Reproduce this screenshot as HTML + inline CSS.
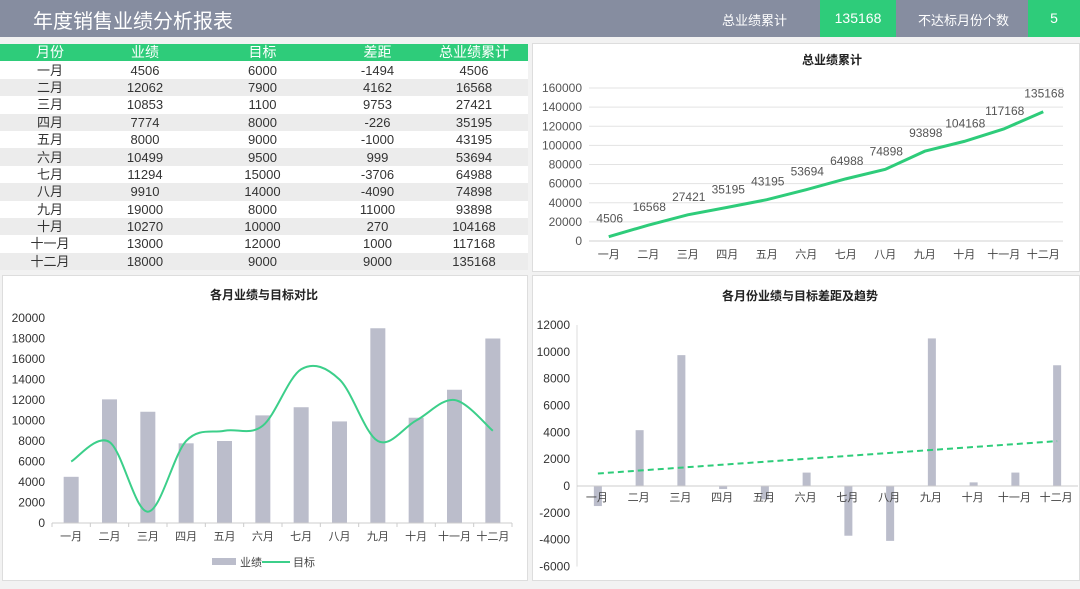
<!DOCTYPE html>
<html><head><meta charset="utf-8">
<style>
body{margin:0;width:1080px;height:589px;background:#f2f2f2;font-family:"Liberation Sans","Noto Sans CJK SC",sans-serif;overflow:hidden;position:relative}
.hdr{position:absolute;left:0;top:0;width:1080px;height:37px;background:#868da0}
.abs{position:absolute}
table{border-collapse:collapse;position:absolute;left:0;top:44px;width:528px;font-size:13px;color:#333;table-layout:fixed}
td{height:17.4px;padding:0;text-align:center;line-height:17px;background:#fff}
tr.h td{background:#2ecc7a;color:#fff;font-size:14px}
tr.g td{background:#ececec}
.panel{position:absolute;background:#fff;border:1px solid #ddd}
svg text{font-family:"Liberation Sans","Noto Sans CJK SC",sans-serif}
</style></head><body>
<div class="hdr"></div>
<div class="abs" style="left:33px;top:5px;color:#fff;font-size:20px">年度销售业绩分析报表</div>
<div class="abs" style="left:722px;top:10px;color:#fff;font-size:13px">总业绩累计</div>
<div class="abs" style="left:820px;top:0;width:76px;height:37px;background:#2ecc7a;color:#fff;font-size:14px;text-align:center;line-height:36px">135168</div>
<div class="abs" style="left:918px;top:10px;color:#fff;font-size:13px">不达标月份个数</div>
<div class="abs" style="left:1028px;top:0;width:52px;height:37px;background:#2ecc7a;color:#fff;font-size:14px;text-align:center;line-height:36px">5</div>

<table id="tbl">
<colgroup><col style="width:100px"><col style="width:90px"><col style="width:145px"><col style="width:85px"><col style="width:108px"></colgroup>
<tbody id="tb"><tr class="h"><td>月份</td><td>业绩</td><td>目标</td><td>差距</td><td>总业绩累计</td></tr></tbody>
</table>

<div class="panel" style="left:532px;top:43px;width:546px;height:227px"></div>
<div class="panel" style="left:2px;top:275px;width:524px;height:304px"></div>
<div class="panel" style="left:532px;top:275px;width:546px;height:304px"></div>

<svg id="svg" class="abs" style="left:0;top:0" width="1080" height="589"></svg>

<script>
const months=["一月","二月","三月","四月","五月","六月","七月","八月","九月","十月","十一月","十二月"];
const sales=[4506,12062,10853,7774,8000,10499,11294,9910,19000,10270,13000,18000];
const targets=[6000,7900,1100,8000,9000,9500,15000,14000,8000,10000,12000,9000];
const gaps=[-1494,4162,9753,-226,-1000,999,-3706,-4090,11000,270,1000,9000];
const cumulative=[4506,16568,27421,35195,43195,53694,64988,74898,93898,104168,117168,135168];
const cumTicks=[0,20000,40000,60000,80000,100000,120000,140000,160000];
const cmpTicks=[0,2000,4000,6000,8000,10000,12000,14000,16000,18000,20000];
const gapTicks=[-6000,-4000,-2000,0,2000,4000,6000,8000,10000,12000];

const tb=document.getElementById('tb');
months.forEach((m,i)=>{
  const tr=document.createElement('tr');
  
  
  if(i%2===1)tr.className='g';
  [m,sales[i],targets[i],gaps[i],cumulative[i]].forEach(v=>{const td=document.createElement('td');td.textContent=v;tr.appendChild(td);});
  tb.appendChild(tr);
});

const svg=document.getElementById('svg');
const NS='http://www.w3.org/2000/svg';
function el(tag,attrs,txt){const e=document.createElementNS(NS,tag);for(const k in attrs)e.setAttribute(k,attrs[k]);if(txt!==undefined)e.textContent=txt;svg.appendChild(e);return e;}
function txt(x,y,s,anchor,size,fill,name,weight){const t=el('text',{x:x,y:y,'text-anchor':anchor,'font-size':size,fill:fill,'font-weight':weight||'normal'},s);return t;}

// Chart 1 cumulative
(function(){
  const x0=589,x1=1063,y0=241,yTop=88,max=160000;
  const bw=(x1-x0)/12;
  const X=i=>x0+bw*(i+0.5), Y=v=>y0-(v/max)*(y0-yTop);
  txt(832,64,'总业绩累计','middle',12,'#222','chart1-title','bold');
  cumTicks.forEach(t=>{
    if(t>0){const g=el('line',{x1:x0,x2:x1,y1:Y(t),y2:Y(t),stroke:'#e3e3e3'});}
    txt(582,Y(t)+4,t,'end',12,'#555','y-tick');
  });
  el('line',{x1:x0,x2:x1,y1:y0,y2:y0,stroke:'#d0d0d0'});
  months.forEach((m,i)=>txt(X(i),258,m,'middle',11,'#444','x-tick'));
  const p=el('polyline',{points:cumulative.map((v,i)=>X(i)+','+Y(v)).join(' '),fill:'none',stroke:'#2ecc7a','stroke-width':3});
  
  cumulative.forEach((v,i)=>txt(X(i)+1,Y(v)-14,v,'middle',12,'#555','data-label'));
})();

// Chart 2 sales vs target
(function(){
  const x0=52,x1=512,y0=523,yTop=318,max=20000;
  const bw=(x1-x0)/12;
  const X=i=>x0+bw*(i+0.5), Y=v=>y0-(v/max)*(y0-yTop);
  txt(264,299,'各月业绩与目标对比','middle',12,'#222','chart2-title','bold');
  cmpTicks.forEach(t=>txt(45,Y(t)+4,t,'end',12,'#333','y-tick'));
  sales.forEach((v,i)=>{const r=el('rect',{x:X(i)-7.5,y:Y(v),width:15,height:y0-Y(v),fill:'#bbbdcb'});});
  el('line',{x1:x0,x2:x1,y1:y0,y2:y0,stroke:'#ccc'});
  for(let i=0;i<=12;i++)el('line',{x1:x0+bw*i,x2:x0+bw*i,y1:y0,y2:y0+4,stroke:'#ccc'});
  months.forEach((m,i)=>txt(X(i),540,m,'middle',11,'#444','x-tick'));
  const pts=targets.map((v,i)=>[X(i),Y(v)]);
  let d='M'+pts[0][0]+','+pts[0][1];
  for(let i=0;i<pts.length-1;i++){
    const p0=pts[Math.max(0,i-1)],p1=pts[i],p2=pts[i+1],p3=pts[Math.min(pts.length-1,i+2)];
    const c1=[p1[0]+(p2[0]-p0[0])/6,p1[1]+(p2[1]-p0[1])/6],c2=[p2[0]-(p3[0]-p1[0])/6,p2[1]-(p3[1]-p1[1])/6];
    d+=` C${c1[0]},${c1[1]} ${c2[0]},${c2[1]} ${p2[0]},${p2[1]}`;
  }
  const p=el('path',{d:d,fill:'none',stroke:'#3ccf8a','stroke-width':2});
  
  const lr=el('rect',{x:212,y:558,width:24,height:7,fill:'#bbbdcb'});
  txt(240,566,'业绩','start',11,'#444','legend-sales');
  el('line',{x1:262,x2:290,y1:562,y2:562,stroke:'#3ccf8a','stroke-width':2});
  txt(293,566,'目标','start',11,'#444','legend-target');
})();

// Chart 3 gaps
(function(){
  const x0=577,x1=1078,y0=486,max=12000,ppu=(486-325)/12000;
  const bw=(x1-x0)/12;
  const X=i=>x0+bw*(i+0.5), Y=v=>y0-v*ppu;
  txt(800,300,'各月份业绩与目标差距及趋势','middle',12,'#222','chart3-title','bold');
  gapTicks.forEach(t=>txt(570,Y(t)+4,t,'end',12,'#333','y-tick'));
  el('line',{x1:x0,x2:x0,y1:Y(12000),y2:Y(-6000),stroke:'#ddd'});
  gaps.forEach((v,i)=>{const top=Math.min(Y(v),y0),h=Math.abs(Y(v)-y0);const r=el('rect',{x:X(i)-4,y:top,width:8,height:h,fill:'#bbbdcb'});});
  el('line',{x1:x0,x2:x1,y1:y0,y2:y0,stroke:'#ccc'});
  months.forEach((m,i)=>txt(X(i)-1,501,m,'middle',11,'#444','x-tick'));
  const n=gaps.length;let sx=0,sy=0,sxy=0,sxx=0;
  gaps.forEach((v,i)=>{sx+=i;sy+=v;sxy+=i*v;sxx+=i*i;});
  const b=(n*sxy-sx*sy)/(n*sxx-sx*sx),a=(sy-b*sx)/n;
  const t=el('line',{x1:X(0),y1:Y(a),x2:X(n-1),y2:Y(a+b*(n-1)),stroke:'#2ecc7a','stroke-width':2,'stroke-dasharray':'6,4'});
  
})();
</script>
</body></html>
